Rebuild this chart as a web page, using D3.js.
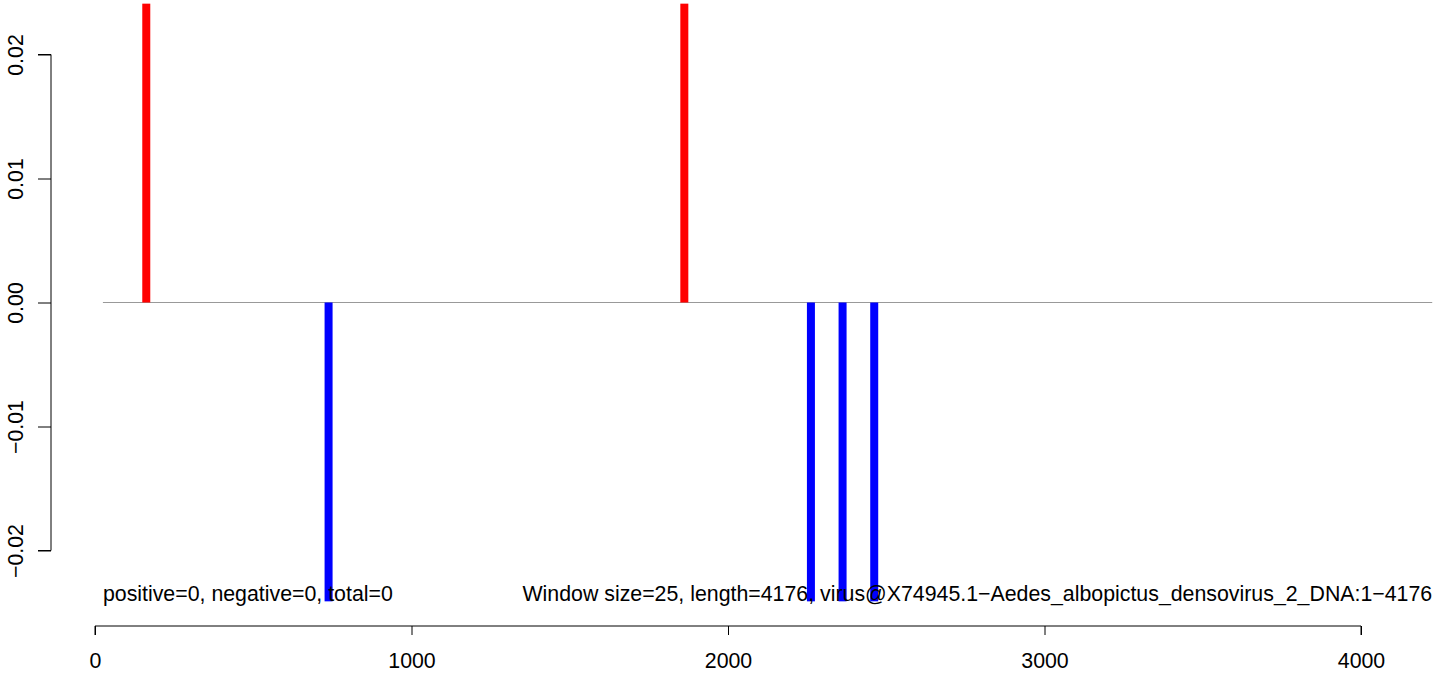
<!DOCTYPE html>
<html><head><meta charset="utf-8">
<script src="https://cdn.jsdelivr.net/npm/d3@7"></script>
<style>body{margin:0;background:#fff}svg{display:block}text{font-family:"Liberation Sans",Arial,sans-serif;fill:#000}</style>
</head><body><svg id="c" width="1444" height="673"></svg>
<script>
const posX = [162, 1862];
const posY = [0.0241, 0.0241];
const negX = [738, 2262, 2362, 2462];
const negY = [-0.0241, -0.0241, -0.0241, -0.0241];
const xTicks = [0, 1000, 2000, 3000, 4000];
const yTicks = [-0.02, -0.01, 0.00, 0.01, 0.02];
const baseRange = [25, 4225];
const leftLabel = "positive=0, negative=0, total=0";
const rightLabel = "Window size=25, length=4176, virus@X74945.1\u2212Aedes_albopictus_densovirus_2_DNA:1\u22124176";

const FS = 21.33;
const svg = d3.select("#c");
const x = d3.scaleLinear().domain([0, 4000]).range([95, 1361]);
const y = d3.scaleLinear().domain([-0.02, 0.02]).range([550.5, 54.5]);

// baseline
svg.append("line").attr("x1", x(baseRange[0])).attr("x2", x(baseRange[1]))
  .attr("y1", y(0)).attr("y2", y(0)).attr("stroke", "#999").attr("stroke-width", 1.2);

svg.selectAll("rect.pos").data(posX.map((d,i)=>[d,posY[i]])).enter().append("rect")
  .attr("x", d => x(d[0]) - 4).attr("width", 8)
  .attr("y", d => y(d[1])).attr("height", d => y(0) - y(d[1]))
  .attr("fill", "#ff0000");
svg.selectAll("rect.neg").data(negX.map((d,i)=>[d,negY[i]])).enter().append("rect")
  .attr("x", d => x(d[0]) - 4).attr("width", 8)
  .attr("y", y(0)).attr("height", d => y(d[1]) - y(0))
  .attr("fill", "#0000ff");

// x axis
const xa = svg.append("g").attr("transform", "translate(0,626)")
  .call(d3.axisBottom(x).tickValues(xTicks).tickSize(9).tickFormat(d3.format("d")));
xa.select(".domain").attr("stroke", "#000").attr("d", `M${x(0)},9V0H${x(4000)}V9`);
xa.selectAll("line").attr("stroke", "#000");
xa.selectAll("text").attr("font-size", FS).attr("y", 41.5).attr("dy", 0)
  .attr("font-family", '"Liberation Sans",Arial,sans-serif');

// y axis
const ya = svg.append("g").attr("transform", "translate(51,0)")
  .call(d3.axisLeft(y).tickValues(yTicks).tickSize(13).tickFormat(d3.format(".2f")));
ya.select(".domain").attr("stroke", "#000").attr("d", `M-13,${y(0.02)}H0V${y(-0.02)}H-13`);
ya.selectAll("line").attr("stroke", "#000");
ya.selectAll("text").remove();
ya.selectAll(".tick").append("text")
  .attr("transform", "translate(-28,0) rotate(-90)")
  .attr("text-anchor", "middle").attr("font-size", FS)
  .attr("font-family", '"Liberation Sans",Arial,sans-serif')
  .text(d => d3.format(".2f")(d).replace("-", "\u2212"));

svg.append("text").attr("x", x(baseRange[0])).attr("y", 601).attr("font-size", FS).text(leftLabel);
svg.append("text").attr("x", x(baseRange[1])).attr("y", 601).attr("font-size", FS)
  .attr("text-anchor", "end").text(rightLabel);
</script></body></html>
